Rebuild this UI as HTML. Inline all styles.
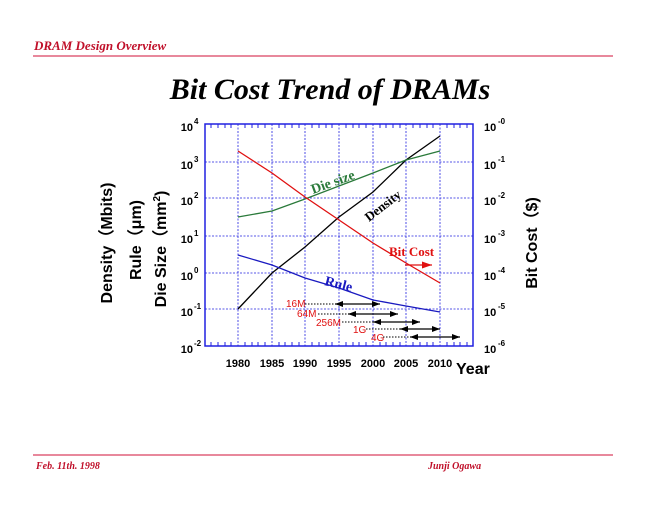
<!DOCTYPE html>
<html><head><meta charset="utf-8"><style>
body{margin:0;background:#fff;width:660px;height:510px;overflow:hidden}
svg{display:block}
.s{font-family:"Liberation Sans",sans-serif;font-weight:bold}
.r{font-family:"Liberation Serif",serif;font-weight:bold}
</style></head><body>
<svg width="660" height="510" viewBox="0 0 660 510" xmlns="http://www.w3.org/2000/svg">
<defs>
<marker id="ah" markerWidth="8" markerHeight="6" refX="8" refY="3" orient="auto-start-reverse" markerUnits="userSpaceOnUse"><path d="M0,0 L8,3 L0,6 z" fill="#000"/></marker>
<marker id="ar" markerWidth="10" markerHeight="7" refX="10" refY="3.5" orient="auto" markerUnits="userSpaceOnUse"><path d="M0,0 L10,3.5 L0,7 z" fill="#e01010"/></marker>
</defs>
<text x="34" y="50" class="r" font-style="italic" font-size="13" fill="#c0102a">DRAM Design Overview</text>
<line x1="33" y1="56" x2="613" y2="56" stroke="#d0103a" stroke-width="1"/>
<text x="330" y="99" class="r" font-style="italic" font-size="30" text-anchor="middle" fill="#000">Bit Cost Trend of DRAMs</text>

<g stroke="#2020e0" stroke-width="0.8" stroke-dasharray="2,1.5">
<line x1="238" y1="124" x2="238" y2="346"/><line x1="272" y1="124" x2="272" y2="346"/><line x1="305" y1="124" x2="305" y2="346"/><line x1="339" y1="124" x2="339" y2="346"/><line x1="373" y1="124" x2="373" y2="346"/><line x1="406" y1="124" x2="406" y2="346"/><line x1="440" y1="124" x2="440" y2="346"/>
<line x1="205" y1="162" x2="473" y2="162"/><line x1="205" y1="198" x2="473" y2="198"/><line x1="205" y1="236" x2="473" y2="236"/><line x1="205" y1="273" x2="473" y2="273"/><line x1="205" y1="309" x2="473" y2="309"/>
</g>
<rect x="205" y="124" width="268" height="222" fill="none" stroke="#2020e0" stroke-width="1.5"/>
<g stroke="#2020e0" stroke-width="1">
<path d="M211,346v-4M218,346v-4M225,346v-4M231,346v-4M245,346v-4M252,346v-4M258,346v-4M265,346v-4M279,346v-4M285,346v-4M292,346v-4M299,346v-4M312,346v-4M319,346v-4M326,346v-4M332,346v-4M346,346v-4M353,346v-4M359,346v-4M366,346v-4M380,346v-4M386,346v-4M393,346v-4M400,346v-4M413,346v-4M420,346v-4M427,346v-4M433,346v-4M447,346v-4M454,346v-4M460,346v-4M467,346v-4"/>
<path d="M211,124v4M218,124v4M225,124v4M231,124v4M245,124v4M252,124v4M258,124v4M265,124v4M279,124v4M285,124v4M292,124v4M299,124v4M312,124v4M319,124v4M326,124v4M332,124v4M346,124v4M353,124v4M359,124v4M366,124v4M380,124v4M386,124v4M393,124v4M400,124v4M413,124v4M420,124v4M427,124v4M433,124v4M447,124v4M454,124v4M460,124v4M467,124v4"/>
</g>
<g class="s" font-size="11" fill="#000">
<text x="193" y="131" text-anchor="end">10</text><text x="194" y="124" font-size="8">4</text>
<text x="193" y="169" text-anchor="end">10</text><text x="194" y="162" font-size="8">3</text>
<text x="193" y="205" text-anchor="end">10</text><text x="194" y="198" font-size="8">2</text>
<text x="193" y="243" text-anchor="end">10</text><text x="194" y="236" font-size="8">1</text>
<text x="193" y="280" text-anchor="end">10</text><text x="194" y="273" font-size="8">0</text>
<text x="193" y="316" text-anchor="end">10</text><text x="194" y="309" font-size="8">-1</text>
<text x="193" y="353" text-anchor="end">10</text><text x="194" y="346" font-size="8">-2</text>
</g>
<g class="s" font-size="11" fill="#000">
<text x="484" y="131">10</text><text x="498" y="124" font-size="8">-0</text>
<text x="484" y="169">10</text><text x="498" y="162" font-size="8">-1</text>
<text x="484" y="205">10</text><text x="498" y="198" font-size="8">-2</text>
<text x="484" y="243">10</text><text x="498" y="236" font-size="8">-3</text>
<text x="484" y="280">10</text><text x="498" y="273" font-size="8">-4</text>
<text x="484" y="316">10</text><text x="498" y="309" font-size="8">-5</text>
<text x="484" y="353">10</text><text x="498" y="346" font-size="8">-6</text>
</g>
<g class="s" font-size="11" fill="#000" text-anchor="middle">
<text x="238" y="367">1980</text><text x="272" y="367">1985</text><text x="305" y="367">1990</text><text x="339" y="367">1995</text><text x="373" y="367">2000</text><text x="406" y="367">2005</text><text x="440" y="367">2010</text>
</g>
<text x="456" y="374" class="s" font-size="16" fill="#000">Year</text>
<text transform="translate(112,243) rotate(-90)" class="s" font-size="16" text-anchor="middle">Density（Mbits)</text>
<text transform="translate(141,240) rotate(-90)" class="s" font-size="16" text-anchor="middle">Rule（μm)</text>
<text transform="translate(166,249) rotate(-90)" class="s" font-size="16" text-anchor="middle">Die Size（mm<tspan font-size="10" dy="-6">2</tspan><tspan dy="6">)</tspan></text>
<text transform="translate(537,243) rotate(-90)" class="s" font-size="16" text-anchor="middle">Bit Cost（$)</text>

<polyline fill="none" stroke="#000" stroke-width="1.3" points="238,309 272,273 305,247 339,217 373,192 406,160 440,136"/>
<polyline fill="none" stroke="#2a7a3a" stroke-width="1.3" points="238,217 272,211 305,199 339,186 373,173 406,160 440,151"/>
<polyline fill="none" stroke="#e01010" stroke-width="1.3" points="238,151 272,173 305,197 339,220 373,243 406,263 440,283"/>
<polyline fill="none" stroke="#1a1ac0" stroke-width="1.3" points="238,255 272,265 305,278 339,288 373,300 406,306 440,312"/>

<text transform="translate(313,194) rotate(-20)" class="r" font-size="14" fill="#2a7a3a">Die size</text>
<text transform="translate(369,222) rotate(-38)" class="r" font-size="13" fill="#000">Density</text>
<text x="389" y="256" class="r" font-size="13" fill="#e01010">Bit Cost</text>
<line x1="405" y1="265" x2="432" y2="265" stroke="#e01010" stroke-width="1.3" marker-end="url(#ar)"/>
<text transform="translate(324,285) rotate(14)" class="r" font-size="14" fill="#1a1ac0">Rule</text>

<g font-family="Liberation Sans,sans-serif" font-size="10" fill="#e01010">
<text x="286" y="307">16M</text><text x="297" y="317">64M</text><text x="316" y="326">256M</text><text x="353" y="333">1G</text><text x="371" y="341">4G</text>
</g>
<g stroke="#000" stroke-width="1" stroke-dasharray="1.5,1.5">
<line x1="305" y1="304" x2="335" y2="304"/><line x1="318" y1="314" x2="348" y2="314"/><line x1="342" y1="322" x2="373" y2="322"/><line x1="366" y1="329" x2="400" y2="329"/><line x1="383" y1="337" x2="410" y2="337"/>
</g>
<g stroke="#000" stroke-width="1.2" marker-start="url(#ah)" marker-end="url(#ah)">
<line x1="335" y1="304" x2="380" y2="304"/><line x1="348" y1="314" x2="398" y2="314"/><line x1="373" y1="322" x2="420" y2="322"/><line x1="400" y1="329" x2="440" y2="329"/><line x1="410" y1="337" x2="460" y2="337"/>
</g>

<line x1="33" y1="455" x2="613" y2="455" stroke="#d0103a" stroke-width="1"/>
<text x="36" y="469" class="r" font-style="italic" font-size="10" fill="#c0102a">Feb. 11th. 1998</text>
<text x="428" y="469" class="r" font-style="italic" font-size="10" fill="#c0102a">Junji  Ogawa</text>
</svg>
</body></html>
